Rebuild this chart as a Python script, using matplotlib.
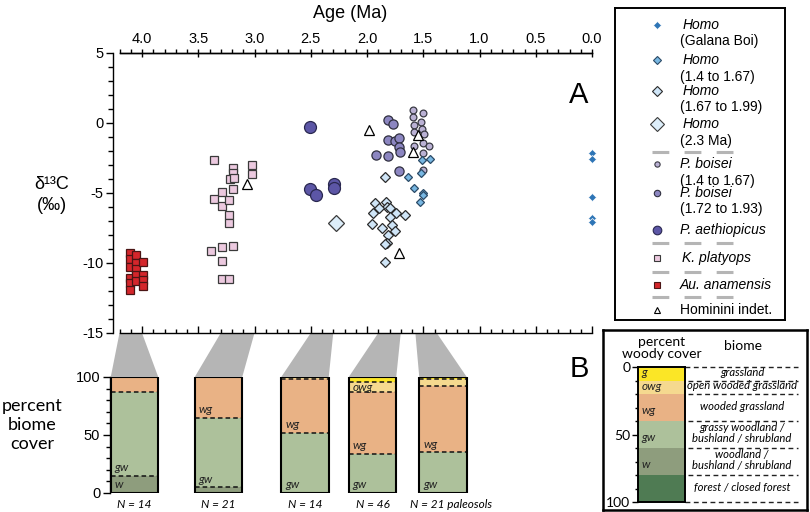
import matplotlib
matplotlib.use('Agg')
import matplotlib.pyplot as plt
from matplotlib.patches import Polygon
from matplotlib.ticker import MultipleLocator, FormatStrFormatter

plt.rcParams['font.family'] = ['Liberation Sans', 'DejaVu Sans']
plt.rcParams['axes.unicode_minus'] = False

# ---------------- data ----------------
au_age = [4.11, 4.11, 4.11, 4.11, 4.11, 4.11, 4.05, 4.05, 4.05, 4.05, 4.05, 3.99, 3.99, 3.99, 3.99]
au_d13c = [-9.26, -9.74, -10.3, -11.1, -11.4, -11.9, -9.43, -10.0, -10.4, -10.86, -11.3, -9.95, -10.86, -11.2, -11.64]

kp_age = [3.36, 3.19, 3.19, 3.22, 3.18, 3.02, 3.02, 3.19, 3.29, 3.36, 3.29, 3.23, 3.23, 3.23, 3.19, 3.29, 3.39, 3.29, 3.29, 3.23]
kp_d13c = [-2.64, -3.24, -3.6, -4.0, -3.95, -3.0, -3.67, -4.71, -4.9, -5.4, -5.9, -5.5, -6.57, -7.17, -8.76, -8.88, -9.17, -9.88, -11.14, -11.14]

pa_age = [2.51, 2.51, 2.45, 2.29, 2.29]
pa_d13c = [-0.26, -4.71, -5.14, -4.36, -4.67]

h23_age = [2.28]
h23_d13c = [-7.17]

h167_age = [1.84, 1.93, 1.835, 1.82, 1.80, 1.89, 1.95, 1.74, 1.66, 1.80, 1.96, 1.87, 1.78, 1.75, 1.81, 1.82, 1.84, 1.84]
h167_d13c = [-3.88, -5.74, -5.62, -5.98, -6.1, -6.1, -6.4, -6.4, -6.6, -6.7, -7.2, -7.5, -7.29, -7.69, -8.0, -8.55, -8.67, -9.9]

pb172_age = [1.81, 1.77, 1.81, 1.755, 1.72, 1.72, 1.71, 1.92, 1.81, 1.72]
pb172_d13c = [0.21, -0.1, -1.21, -1.29, -1.1, -1.74, -2.05, -2.29, -2.36, -3.4]

pb14_age = [1.59, 1.50, 1.59, 1.52, 1.58, 1.51, 1.58, 1.49, 1.50, 1.45, 1.58, 1.50, 1.50]
pb14_d13c = [0.93, 0.74, 0.4, 0.1, -0.14, -0.43, -0.62, -0.79, -1.4, -1.64, -1.64, -2.17, -3.36]

h14_age = [1.51, 1.44, 1.52, 1.64, 1.58, 1.50, 1.50, 1.53]
h14_d13c = [-2.64, -2.6, -3.55, -3.88, -4.62, -5.02, -5.14, -5.62]

gb_age = [0.0, 0.0, 0.0, 0.0, 0.0]
gb_d13c = [-2.16, -2.6, -5.3, -6.8, -7.1]

hi_age = [3.07, 1.98, 1.72, 1.59, 1.55]
hi_d13c = [-4.36, -0.5, -9.26, -2.05, -0.86]

# paleosol biome cover (percent) per interval
cover_intervals = [(4.2, 4.0), (3.3, 3.0), (2.5, 2.3), (1.9, 1.7), (1.57, 1.38)]
cover_w = [15, 5, 0, 0, 0]
cover_gw = [72, 60, 52, 34, 35]
cover_wg = [13, 35, 46, 53, 57]
cover_owg = [0, 0, 2, 8.5, 6.5]
cover_g = [0, 0, 0, 4.5, 1.5]
cover_n = ["N = 14", "N = 21", "N = 14", "N = 46", "N = 21 paleosols"]
cover_labels = [['w', 'gw'], ['gw', 'wg'], ['gw', 'wg'], ['gw', 'wg', 'owg'], ['gw', 'wg']]

biome_codes = ['g', 'owg', 'wg', 'gw', 'w', 'f']
biome_bounds = [0, 10, 20, 40, 60, 80, 100]
biome_names = ['grassland', 'open wooded grassland', 'wooded grassland',
               'grassy woodland /\nbushland / shrubland', 'woodland /\nbushland / shrubland',
               'forest / closed forest']

# ---------------- styles ----------------
biome_col = {'g': '#fbe626', 'owg': '#f5d98f', 'wg': '#e9b285', 'gw': '#adc19b',
             'w': '#8e9d7d', 'f': '#4f7b53'}

series = [
    ('au', au_age, au_d13c, 's', 5.4, '#d4262b', '#4a1515'),
    ('kp', kp_age, kp_d13c, 's', 5.8, '#ecc9df', '#3a3a3a'),
    ('pa', pa_age, pa_d13c, 'o', 8.6, '#5c56a6', '#2a2850'),
    ('h23', h23_age, h23_d13c, 'D', 7.8, '#ddeefa', '#3a3a3a'),
    ('h167', h167_age, h167_d13c, 'D', 5.4, '#cfe5f7', '#2a2a2a'),
    ('pb172', pb172_age, pb172_d13c, 'o', 6.6, '#8c86c1', '#2f2f3f'),
    ('pb14', pb14_age, pb14_d13c, 'o', 4.9, '#bab1d4', '#3a3a44'),
    ('h14', h14_age, h14_d13c, 'D', 4.0, '#78b7e2', '#2b4a66'),
    ('gb', gb_age, gb_d13c, 'D', 3.7, '#2e75b6', 'white'),
    ('hi', hi_age, hi_d13c, '^', 6.5, 'white', 'black'),
]

W, H = 810, 512
fig = plt.figure(figsize=(W / 100, H / 100), dpi=100)


def rect(x0, y0, x1, y1):
    return [x0 / W, 1 - y1 / H, (x1 - x0) / W, (y1 - y0) / H]


# ---------------- panel A ----------------
ax = fig.add_axes(rect(119.5, 53, 592, 333))
ax.set_facecolor('none')
ax.set_xlim(4.2, 0.0)
ax.set_ylim(-15, 5)
for i, (key, xs, ys, mk, ms, fc, ec) in enumerate(series):
    ew = 0.5 if key == 'gb' else 0.9
    ax.plot(xs, ys, ls='none', marker=mk, ms=ms, mfc=fc, mec=ec, mew=ew, zorder=3 + i, clip_on=False)

ax.spines['right'].set_visible(False)
ax.spines['left'].set_position(('outward', 4.5))
for s in ['left', 'top', 'bottom']:
    ax.spines[s].set_linewidth(1.0)
ax.yaxis.set_major_locator(MultipleLocator(5))
ax.yaxis.set_minor_locator(MultipleLocator(1))
ax.tick_params(axis='y', which='major', direction='out', length=5, width=1, labelsize=10.5, pad=2)
ax.tick_params(axis='y', which='minor', direction='out', length=3.5, width=1)
ax.xaxis.set_major_locator(MultipleLocator(0.5))
ax.xaxis.set_minor_locator(MultipleLocator(0.1))
ax.tick_params(axis='x', which='major', bottom=True, top=False, labelbottom=False,
               direction='in', length=5, width=1)
ax.tick_params(axis='x', which='minor', bottom=True, top=False, direction='in', length=3, width=1)

sec = ax.secondary_xaxis('top')
sec.xaxis.set_major_locator(MultipleLocator(0.5))
sec.xaxis.set_minor_locator(MultipleLocator(0.1))
sec.xaxis.set_major_formatter(FormatStrFormatter('%.1f'))
sec.tick_params(axis='x', which='major', direction='inout', length=6, width=1, labelsize=10.5, pad=2)
sec.tick_params(axis='x', which='minor', direction='out', length=3, width=1)
sec.spines['top'].set_linewidth(1.0)

fig.text(350 / W, 1 - 14 / H, 'Age (Ma)', ha='center', va='center', fontsize=13)
fig.text(52 / W, 1 - 195 / H, 'δ¹³C\n(‰)', ha='center', va='center', fontsize=13, linespacing=1.3)
fig.text(579 / W, 1 - 95 / H, 'A', ha='center', va='center', fontsize=21)
fig.text(579 / W, 1 - 369 / H, 'B', ha='center', va='center', fontsize=21)

# ---------------- legend A ----------------
lax = fig.add_axes(rect(615, 8, 785, 320))
lax.set_xlim(615, 785)
lax.set_ylim(320, 8)
lax.set_xticks([])
lax.set_yticks([])
for s in lax.spines.values():
    s.set_linewidth(1.4)

leg_rows = {
    'gb': (25, [('Homo', 'italic', 683), ('(Galana Boi)', 'normal', 680)], 3.6),
    'h14': (60, [('Homo', 'italic', 683), ('(1.4 to 1.67)', 'normal', 680)], 3.8),
    'h167': (91, [('Homo', 'italic', 683), ('(1.67 to 1.99)', 'normal', 680)], 5.0),
    'h23': (124, [('Homo', 'italic', 683), ('(2.3 Ma)', 'normal', 680)], 7.4),
    'pb14': (164, [('P. boisei', 'italic', 680), ('(1.4 to 1.67)', 'normal', 680)], 3.8),
    'pb172': (193, [('P. boisei', 'italic', 680), ('(1.72 to 1.93)', 'normal', 680)], 4.6),
    'pa': (230, [('P. aethiopicus', 'italic', 680)], 6.2),
    'kp': (258, [('K. platyops', 'italic', 682)], 5.0),
    'au': (285, [('Au. anamensis', 'italic', 680)], 5.0),
    'hi': (310, [('Hominini indet.', 'normal', 680)], 4.6),
}
for key, xs, ys, mk, ms, fc, ec in series:
    y0, lines, lms = leg_rows[key]
    ew = 0.5 if key == 'gb' else 0.8
    lax.plot([657], [y0], ls='none', marker=mk, ms=lms, mfc=fc, mec=ec, mew=ew)
    for j, (txt, style, x) in enumerate(lines):
        lax.text(x, y0 + 16.5 * j, txt, style=style, fontsize=10, ha='left', va='center')
for yd in [152, 243, 272, 297]:
    lax.plot([652, 737], [yd, yd], color='#b5b5b5', lw=2.2, ls=(0, (5.5, 5)), solid_capstyle='butt')

# ---------------- bottom cover bars ----------------
bax = fig.add_axes(rect(110, 377, 592, 493))
bax.set_facecolor('none')
bax.set_xlim(110, 592)
bax.set_ylim(0, 100)
bar_centers = [134.5, 218.5, 305, 372.5, 443]
bar_w = 47.5
layers = [('w', cover_w), ('gw', cover_gw), ('wg', cover_wg), ('owg', cover_owg), ('g', cover_g)]
for i, c in enumerate(bar_centers):
    bottom = 0
    bounds = []
    segs = {}
    for code, vals in layers:
        v = vals[i]
        if v > 0:
            bax.bar(c, v, bottom=bottom, width=bar_w, color=biome_col[code], lw=0, zorder=2)
            segs[code] = (bottom, v)
            bottom += v
            bounds.append(bottom)
    for b in bounds[:-1]:
        bax.plot([c - bar_w / 2, c + bar_w / 2], [b, b], color='#111111', lw=1.1,
                 ls=(0, (3, 2)), zorder=3)
    bax.bar(c, 100, width=bar_w, fill=False, edgecolor='black', lw=1.5, zorder=4)
    for code in cover_labels[i]:
        lo, h = segs[code]
        bax.text(c - bar_w / 2 + 4, lo + min(7, h / 2), code, style='italic', fontsize=8.5,
                 family='Lato', ha='left', va='center', color='#222222', zorder=5)
    if i < len(bar_centers) - 1:
        bax.text(c, -9.5, cover_n[i], style='italic', fontsize=8.5, family='Lato',
                 ha='center', va='center')
    else:
        bax.text(c - bar_w / 2 - 9, -9.5, cover_n[i], style='italic', fontsize=8.5,
                 family='Lato', ha='left', va='center')

for s in ['right', 'top', 'bottom']:
    bax.spines[s].set_visible(False)
bax.spines['left'].set_linewidth(1.0)
bax.set_xticks([])
bax.yaxis.set_major_locator(MultipleLocator(50))
bax.yaxis.set_minor_locator(MultipleLocator(10))
bax.tick_params(axis='y', which='major', direction='out', length=5, width=1, labelsize=10.5, pad=2)
bax.tick_params(axis='y', which='minor', direction='out', length=3, width=1)
fig.text(32 / W, 1 - 425 / H, 'percent\nbiome\ncover', ha='center', va='center',
         fontsize=13, family='Lato', linespacing=1.25)

# grey connectors
inv = fig.transFigure.inverted()
for i, (a0, a1) in enumerate(cover_intervals):
    c = bar_centers[i]
    p1 = inv.transform(ax.transData.transform((a0, -15)))
    p2 = inv.transform(ax.transData.transform((a1, -15)))
    p3 = inv.transform(bax.transData.transform((c + bar_w / 2, 100)))
    p4 = inv.transform(bax.transData.transform((c - bar_w / 2, 100)))
    fig.add_artist(Polygon([p1, p2, p3, p4], closed=True, facecolor='#b5b5b5',
                           edgecolor='none', transform=fig.transFigure, zorder=-1))

# ---------------- legend B ----------------
kax = fig.add_axes(rect(603, 330, 807, 510))
kax.set_xlim(603, 807)
kax.set_ylim(510, 330)
kax.set_xticks([])
kax.set_yticks([])
for s in kax.spines.values():
    s.set_linewidth(1.8)


def py(p):
    return 367 + p * 1.35


cax = fig.add_axes(rect(638, py(0), 685, py(100)))
cax.set_xlim(0, 1)
cax.set_ylim(100, 0)
for k, code in enumerate(biome_codes):
    lo, hi = biome_bounds[k], biome_bounds[k + 1]
    cax.bar(0.5, hi - lo, bottom=lo, width=1, color=biome_col[code], lw=0)
    if code != 'f':
        h = hi - lo
        yl = lo + (0.62 * h if h >= 20 else 0.42 * h)
        cax.text(0.08, yl, code, style='italic', fontsize=8.5, family='Lato', ha='left', va='center',
                 color='#222222')
for s in ['right', 'top', 'bottom', 'left']:
    cax.spines[s].set_linewidth(1.4)
cax.set_xticks([])
cax.yaxis.set_major_locator(MultipleLocator(50))
cax.yaxis.set_minor_locator(MultipleLocator(10))
cax.tick_params(axis='y', which='major', direction='out', length=4, width=1, labelsize=10, pad=1.5)
cax.tick_params(axis='y', which='minor', direction='out', length=2.5, width=1)
for lab in cax.get_yticklabels():
    lab.set_family('Lato')

for k, b in enumerate(biome_bounds):
    x0 = 685 if b in (0, 100) else 638
    kax.plot([x0, 798], [py(b), py(b)], color='#222222', lw=1.0, ls=(0, (3.5, 2.5)), zorder=5)
for k, name in enumerate(biome_names):
    mid = (biome_bounds[k] + biome_bounds[k + 1]) / 2
    kax.text(742, py(mid) - 1.5, name, style='italic', fontsize=8.1, family='Lato',
             ha='center', va='center', linespacing=1.0)
kax.text(662, 342, 'percent', fontsize=10, family='Lato', ha='center', va='center')
kax.text(662, 354.5, 'woody cover', fontsize=10, family='Lato', ha='center', va='center')
kax.text(743, 346, 'biome', fontsize=10, family='Lato', ha='center', va='center')

fig.savefig('out.png', dpi=100)
